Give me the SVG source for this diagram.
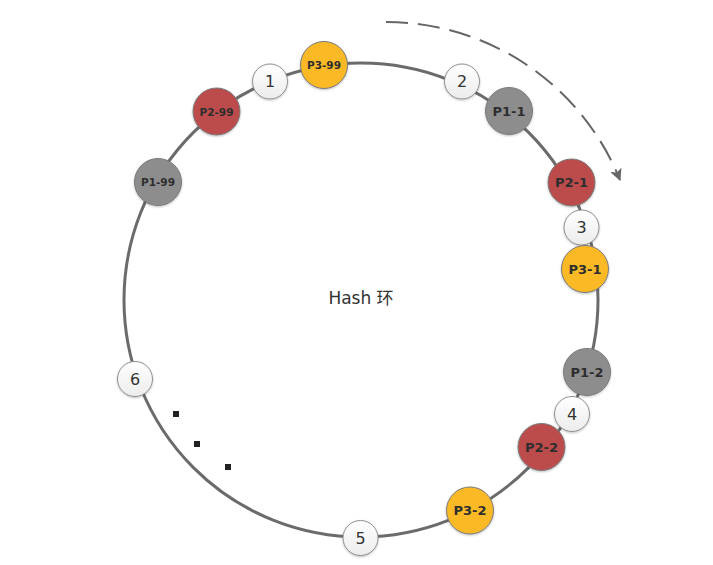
<svg xmlns="http://www.w3.org/2000/svg" width="713" height="565" viewBox="0 0 713 565">
  <style>
    .ring { fill: none; stroke: #6b6b6b; stroke-width: 3; }
    .flow { fill: none; stroke: #666666; stroke-width: 2; stroke-dasharray: 22 10; }
    .num circle { fill: url(#wg); stroke: #8f8f8f; stroke-width: 1; filter: url(#sh); }
    .num text { font-family: "DejaVu Sans", "Open Sans", sans-serif; font-size: 16px; fill: #333333; text-anchor: middle; dominant-baseline: central; }
    .p circle { stroke: #7a7a7a; stroke-width: 1; filter: url(#sh); }
    .p text { font-family: "DejaVu Sans", "Open Sans", sans-serif; font-weight: bold; font-size: 13px; fill: #2e2e2e; text-anchor: middle; dominant-baseline: central; }
    .p.s text { font-size: 10.5px; }
    .gold circle { fill: #FBB928; }
    .red circle { fill: #BC4B4B; }
    .gray circle { fill: #8D8D8D; }
    .dot { fill: #222222; }
    .title { font-family: "DejaVu Sans", "Noto Sans CJK SC", sans-serif; font-size: 17px; fill: #333333; text-anchor: middle; dominant-baseline: central; }
  </style>
  <defs>
    <linearGradient id="wg" x1="0" y1="0" x2="0" y2="1">
      <stop offset="0" stop-color="#ffffff"/>
      <stop offset="1" stop-color="#ececec"/>
    </linearGradient>
    <filter id="sh" x="-30%" y="-30%" width="160%" height="160%">
      <feDropShadow dx="0" dy="1" stdDeviation="1" flood-color="#000000" flood-opacity="0.25"/>
    </filter>
    <marker id="arr" viewBox="0 0 12 12" refX="11" refY="6" markerWidth="12" markerHeight="12" markerUnits="userSpaceOnUse" orient="auto">
      <path d="M0,0 L12,6 L0,12 L3,6 Z" fill="#666666"/>
    </marker>
  </defs>

  <g id="connectors">
    <circle class="ring" cx="361" cy="300" r="237"/>
    <path class="flow" d="M 386 22 A 252 252 0 0 1 620 180" marker-end="url(#arr)"/>
  </g>

  <g id="title"><text class="title" x="361" y="298">Hash 环</text></g>

  <g id="dots">
    <rect class="dot" x="173" y="411" width="6" height="6"/>
    <rect class="dot" x="194" y="441" width="6" height="6"/>
    <rect class="dot" x="225" y="464" width="6" height="6"/>
  </g>

  <g id="node-p2-99" class="p red s"><circle cx="216.5" cy="111.5" r="23.5"/><text x="216.5" y="111.5">P2-99</text></g>
  <g id="node-1" class="num"><circle cx="270" cy="81.5" r="17.5"/><text x="270" y="81.5">1</text></g>
  <g id="node-p3-99" class="p gold s"><circle cx="324" cy="65" r="23.5"/><text x="324" y="65">P3-99</text></g>
  <g id="node-p1-99" class="p gray s"><circle cx="158" cy="182" r="23.5"/><text x="158" y="182">P1-99</text></g>
  <g id="node-2" class="num"><circle cx="462" cy="81.5" r="17.5"/><text x="462" y="81.5">2</text></g>
  <g id="node-p1-1" class="p gray"><circle cx="509" cy="111" r="23.5"/><text x="509" y="111">P1-1</text></g>
  <g id="node-p2-1" class="p red"><circle cx="571.5" cy="182.5" r="23.5"/><text x="571.5" y="182.5">P2-1</text></g>
  <g id="node-3" class="num"><circle cx="581.5" cy="227.5" r="17.5"/><text x="581.5" y="227.5">3</text></g>
  <g id="node-p3-1" class="p gold"><circle cx="585" cy="269" r="23.5"/><text x="585" y="269">P3-1</text></g>
  <g id="node-p1-2" class="p gray"><circle cx="587" cy="372" r="23.5"/><text x="587" y="372">P1-2</text></g>
  <g id="node-4" class="num"><circle cx="572" cy="414" r="17.5"/><text x="572" y="414">4</text></g>
  <g id="node-p2-2" class="p red"><circle cx="541.5" cy="447" r="23.5"/><text x="541.5" y="447">P2-2</text></g>
  <g id="node-p3-2" class="p gold"><circle cx="470" cy="510.5" r="23.5"/><text x="470" y="510.5">P3-2</text></g>
  <g id="node-5" class="num"><circle cx="360.5" cy="538" r="17.5"/><text x="360.5" y="538">5</text></g>
  <g id="node-6" class="num"><circle cx="135" cy="379" r="17.5"/><text x="135" y="379">6</text></g>
</svg>
